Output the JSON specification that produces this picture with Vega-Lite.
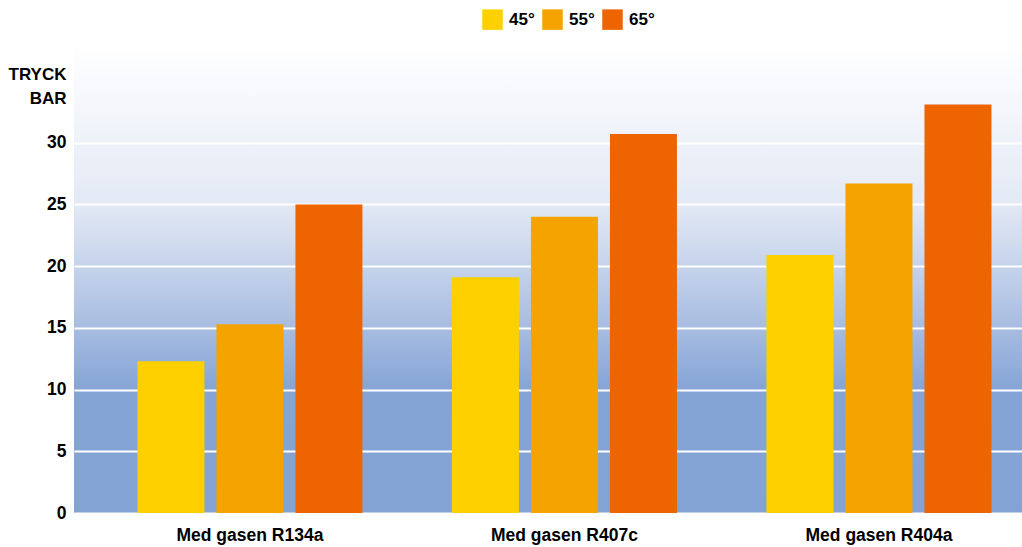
{
  "$schema": "https://vega.github.io/schema/vega-lite/v6.json",
  "autosize": {"type": "none"},
  "padding": {"left": 74, "top": 44, "right": 0, "bottom": 34},
  "width": 948,
  "height": 469,
  "background": "#ffffff",
  "view": {
    "stroke": null,
    "fill": {
      "gradient": "linear",
      "x1": 0, "y1": 0, "x2": 0, "y2": 1,
      "stops": [
        {"offset": 0, "color": "#ffffff"},
        {"offset": 0.34, "color": "#e3e9f5"},
        {"offset": 0.47, "color": "#c6d4eb"},
        {"offset": 0.60, "color": "#a8bde1"},
        {"offset": 0.74, "color": "#84a4d5"},
        {"offset": 1, "color": "#82a3d4"}
      ]
    }
  },
  "config": {
    "font": "Liberation Sans",
    "axis": {"labelFont": "Liberation Sans", "titleFont": "Liberation Sans"},
    "legend": {"labelFont": "Liberation Sans"}
  },
  "data": {
    "values": [
      {"gas": "Med gasen R134a", "temp": "45°", "value": 12.3},
      {"gas": "Med gasen R134a", "temp": "55°", "value": 15.3},
      {"gas": "Med gasen R134a", "temp": "65°", "value": 25.0},
      {"gas": "Med gasen R407c", "temp": "45°", "value": 19.1},
      {"gas": "Med gasen R407c", "temp": "55°", "value": 24.0},
      {"gas": "Med gasen R407c", "temp": "65°", "value": 30.7},
      {"gas": "Med gasen R404a", "temp": "45°", "value": 20.9},
      {"gas": "Med gasen R404a", "temp": "55°", "value": 26.7},
      {"gas": "Med gasen R404a", "temp": "65°", "value": 33.1}
    ]
  },
  "mark": {"type": "bar"},
  "encoding": {
    "x": {
      "field": "gas",
      "type": "nominal",
      "sort": null,
      "scale": {"paddingInner": 0.2846, "paddingOuter": 0.1494, "align": 0.675},
      "axis": {
        "title": null,
        "labelAngle": 0,
        "labelFontSize": 17.5,
        "labelFontWeight": "bold",
        "labelColor": "#000000",
        "labelPadding": 13,
        "domain": false,
        "ticks": false,
        "grid": false
      }
    },
    "xOffset": {
      "field": "temp",
      "type": "nominal",
      "sort": null,
      "scale": {"paddingInner": 0.152, "paddingOuter": 0}
    },
    "y": {
      "field": "value",
      "type": "quantitative",
      "scale": {"domain": [0, 38], "nice": false},
      "axis": {
        "title": ["TRYCK", "BAR"],
        "titleAngle": 0,
        "titleAlign": "right",
        "titleBaseline": "alphabetic",
        "titleX": -8,
        "titleY": 35,
        "titleFontSize": 17,
        "titleFontWeight": "bold",
        "titleColor": "#000000",
        "titleLineHeight": 24,
        "values": [0, 5, 10, 15, 20, 25, 30],
        "labelFontSize": 17.5,
        "labelFontWeight": "bold",
        "labelColor": "#000000",
        "labelPadding": 8,
        "domain": false,
        "ticks": false,
        "grid": true,
        "gridColor": "#ffffff",
        "gridWidth": 2,
        "gridOpacity": 1
      }
    },
    "color": {
      "field": "temp",
      "type": "nominal",
      "sort": null,
      "scale": {"domain": ["45°", "55°", "65°"], "range": ["#fed000", "#f4a300", "#ed6400"]},
      "legend": {
        "title": null,
        "orient": "none",
        "direction": "horizontal",
        "legendX": 408,
        "legendY": -35,
        "symbolType": "square",
        "symbolSize": 420,
        "symbolStrokeWidth": 0,
        "symbolOpacity": 1,
        "labelFontSize": 17,
        "labelFontWeight": "bold",
        "labelColor": "#000000",
        "labelOffset": 6,
        "columnPadding": 7
      }
    }
  }
}
